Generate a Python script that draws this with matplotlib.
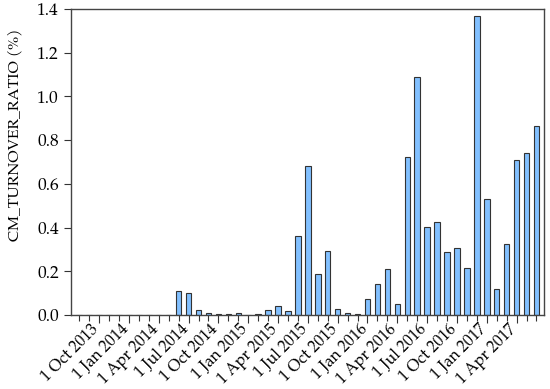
import matplotlib
matplotlib.use("Agg")
import matplotlib.pyplot as plt
import numpy as np
import pandas as pd

months = pd.date_range("2013-08-01", "2017-06-01", freq="MS")
values = [0, 0, 0, 0, 0, 0, 0, 0.001, 0.002, 0.001,
          0.110, 0.100, 0.023, 0.008, 0.005, 0.005, 0.011, 0.002, 0.003, 0.023,
          0.043, 0.017, 0.360, 0.680, 0.189, 0.294, 0.030, 0.011, 0.005, 0.073,
          0.142, 0.210, 0.050, 0.722, 1.089, 0.402, 0.424, 0.289, 0.309, 0.216,
          1.370, 0.529, 0.120, 0.324, 0.711, 0.739, 0.867]
tick_labels = ["1 Oct 2013", "1 Jan 2014", "1 Apr 2014", "1 Jul 2014", "1 Oct 2014",
               "1 Jan 2015", "1 Apr 2015", "1 Jul 2015", "1 Oct 2015", "1 Jan 2016",
               "1 Apr 2016", "1 Jul 2016", "1 Oct 2016", "1 Jan 2017", "1 Apr 2017"]
ylabel = "CM_TURNOVER_RATIO (%)"

plt.rcParams['font.family'] = ['TeX Gyre Pagella', 'Liberation Serif', 'DejaVu Serif']

fig = plt.figure(figsize=(5.5, 3.89), dpi=100)
ax = fig.add_axes([0.1285, 0.19, 0.861, 0.787])

x = np.arange(len(months))
ax.bar(x, values, width=0.55, color='#82c0ff', edgecolor='#333333', linewidth=0.8)

ax.set_xlim(-0.86, 46.78)
ax.set_ylim(0, 1.4)
yt = np.arange(0, 1.41, 0.2)
ax.set_yticks(yt)
ax.set_yticklabels([f"{v:.1f}" for v in yt], fontsize=12.5)

major_pos = [i for i, m in enumerate(months) if m.month in (1, 4, 7, 10)]
ax.set_xticks(major_pos)
ax.set_xticklabels(tick_labels, rotation=45, ha='right', va='baseline',
                   rotation_mode='anchor', fontsize=11.6)
ax.set_xticks(x, minor=True)
ax.tick_params(axis='x', which='major', length=6, width=0.8, color='#333333', pad=4.5)
ax.tick_params(axis='x', which='minor', length=4, width=0.8, color='#333333')
ax.tick_params(axis='y', length=5, width=0.8, color='#333333', pad=3.5)
for s in ax.spines.values():
    s.set_linewidth(1.0)
    s.set_color('#444444')

ax.set_ylabel(ylabel, fontsize=11.3)
ax.yaxis.set_label_coords(-0.103, 0.59)

fig.savefig("out.png", dpi=100)
